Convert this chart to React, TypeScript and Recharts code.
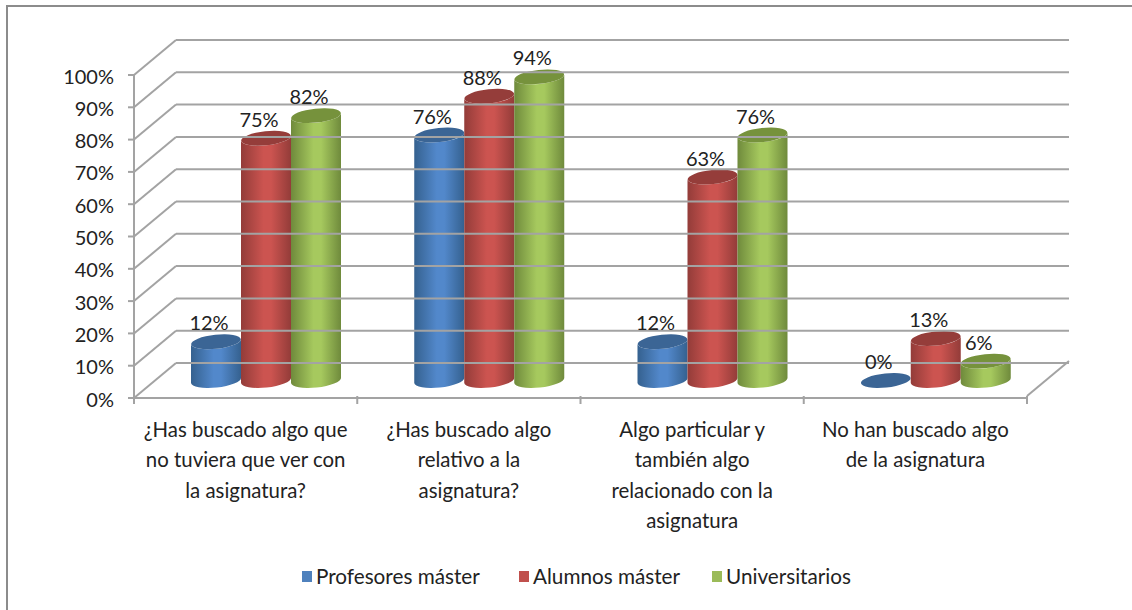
import { BarChart, Bar, XAxis, YAxis, Legend, LabelList } from 'recharts';

const categories = [
  ['¿Has buscado algo que', 'no tuviera que ver con', 'la asignatura?'],
  ['¿Has buscado algo', 'relativo a la', 'asignatura?'],
  ['Algo particular y', 'también algo', 'relacionado con la', 'asignatura'],
  ['No han buscado algo', 'de la asignatura'],
];
const profesores = [12, 76, 12, 0];
const alumnos = [75, 88, 63, 13];
const universitarios = [82, 94, 76, 6];
const yTicks = [0, 10, 20, 30, 40, 50, 60, 70, 80, 90, 100];

const data = categories.map((lines, i) => ({
  name: lines.join(' '),
  profesores: profesores[i],
  alumnos: alumnos[i],
  universitarios: universitarios[i],
}));

const FONT = 'Lato, sans-serif';
const GRID = '#a3a3a3';
const TEXT = '#222222';

// fake 3d depth of the walls, and of the bars standing halfway in
const DEPTH_X = 42;
const DEPTH_Y = 35;
const PLOT_LEFT = 134;
const PLOT_RIGHT = 1027;
const BAND = (PLOT_RIGHT - PLOT_LEFT) / categories.length;

// legend item widths, the reference spaces them unevenly
const LEGEND_WIDTHS = [217, 193, 140];

const YTick = ({ x, y, payload }: any) => (
  <g>
    <line x1={PLOT_LEFT} y1={y} x2={PLOT_LEFT + DEPTH_X} y2={y - DEPTH_Y} stroke={GRID} strokeWidth={2} />
    <line x1={PLOT_LEFT + DEPTH_X} y1={y - DEPTH_Y} x2={PLOT_RIGHT + DEPTH_X} y2={y - DEPTH_Y} stroke={GRID} strokeWidth={2} />
    <line x1={PLOT_LEFT - 6} y1={y} x2={PLOT_LEFT} y2={y} stroke={GRID} strokeWidth={2} />
    <text x={x - 12} y={y + 8.5} textAnchor="end" fontFamily={FONT} fontSize={20} fill={TEXT}>
      {payload.value}%
    </text>
  </g>
);

const XTick = ({ x, y, index }: any) => {
  const left = x - BAND / 2;
  const right = x + BAND / 2;
  return (
    <g>
      <line x1={left} y1={y - 8} x2={left} y2={y} stroke={GRID} strokeWidth={2} />
      {index === categories.length - 1 && (
        <g>
          <line x1={right} y1={y - 8} x2={right} y2={y} stroke={GRID} strokeWidth={2} />
          <line x1={right} y1={y - 8} x2={right + DEPTH_X} y2={y - 8 - DEPTH_Y} stroke={GRID} strokeWidth={2} />
        </g>
      )}
      <text textAnchor="middle" fontFamily={FONT} fontSize={20.4} fill={TEXT}>
        {categories[index].map((line, i) => (
          <tspan key={i} x={x} y={y + 33 + i * 30.4}>
            {line}
          </tspan>
        ))}
      </text>
    </g>
  );
};

const cylinder = (gradient: string, topColor: string) => (props: any) => {
  const { x, y, width, height } = props;
  const rx = width / 2;
  const ry = 7;
  const tilt = 2.6;
  const cx = x + rx + DEPTH_X / 2 - 1;
  const top = y - DEPTH_Y / 2;
  const bottom = top + height;
  const arc = `${rx} ${ry} -6`;
  const side =
    `M ${cx - rx} ${top + tilt} L ${cx - rx} ${bottom + tilt} ` +
    `A ${arc} 0 0 ${cx + rx} ${bottom - tilt} L ${cx + rx} ${top - tilt} ` +
    `A ${arc} 0 1 ${cx - rx} ${top + tilt} Z`;
  return (
    <g>
      {height > 0 && <path d={side} fill={`url(#${gradient})`} />}
      <ellipse cx={cx} cy={top} rx={rx} ry={ry} fill={topColor} transform={`rotate(-6 ${cx} ${top})`} />
    </g>
  );
};

const BarValue = ({ x, y, width, value }: any) => (
  <text x={x + width / 2 + 13} y={y - DEPTH_Y / 2 - 11.5} textAnchor="middle" fontFamily={FONT} fontSize={20} fill={TEXT}>
    {value}%
  </text>
);

const LegendRow = ({ payload }: any) => (
  <div style={{ display: 'flex', fontFamily: FONT, fontSize: 20.7, color: TEXT, lineHeight: '24px' }}>
    {payload.map((item: any, i: number) => (
      <div key={item.value} style={{ display: 'flex', alignItems: 'center', width: LEGEND_WIDTHS[i] }}>
        <span style={{ width: 10, height: 11, background: item.color, marginRight: 4 }} />
        {item.value}
      </div>
    ))}
  </div>
);

const Shade = ({ id, edge, mid }: { id: string; edge: string; mid: string }) => (
  <linearGradient id={id} x1="0" y1="0" x2="1" y2="0">
    <stop offset="0%" stopColor={edge} />
    <stop offset="45%" stopColor={mid} />
    <stop offset="60%" stopColor={mid} />
    <stop offset="100%" stopColor={edge} />
  </linearGradient>
);

export default function App() {
  return (
    <div style={{ position: 'absolute', left: 0, top: 0, width: 1132, height: 610, background: '#fff', overflow: 'hidden' }}>
      <div style={{ position: 'absolute', left: 6, top: 5, width: 1140, height: 620, border: '2px solid #8c8c8c' }} />
      <div style={{ position: 'absolute', left: 0, top: 0 }}>
        <BarChart
          width={1132}
          height={610}
          data={data}
          barSize={50}
          barGap={0}
          margin={{ top: 75, right: 105, bottom: 0, left: 74 }}
        >
          <defs>
            <Shade id="shadeBlue" edge="#35618f" mid="#5288cb" />
            <Shade id="shadeRed" edge="#933c39" mid="#cc5450" />
            <Shade id="shadeGreen" edge="#6f8a3c" mid="#a6c95e" />
          </defs>
          <YAxis
            width={60}
            domain={[0, 100]}
            ticks={yTicks}
            interval={0}
            axisLine={{ stroke: GRID, strokeWidth: 2 }}
            tickLine={false}
            tick={<YTick />}
          />
          <XAxis
            dataKey="name"
            height={182}
            interval={0}
            axisLine={{ stroke: GRID, strokeWidth: 2 }}
            tickLine={false}
            tick={<XTick />}
            tickMargin={0}
          />
          <Legend
            verticalAlign="bottom"
            height={30}
            itemSorter={null}
            wrapperStyle={{ left: 302, top: 564, width: 700 }}
            content={<LegendRow />}
          />
          <Bar dataKey="profesores" name="Profesores máster" fill="#4f81bd" isAnimationActive={false} shape={cylinder('shadeBlue', '#3b6595')}>
            <LabelList dataKey="profesores" content={<BarValue />} />
          </Bar>
          <Bar dataKey="alumnos" name="Alumnos máster" fill="#c0504d" isAnimationActive={false} shape={cylinder('shadeRed', '#953d3a')}>
            <LabelList dataKey="alumnos" content={<BarValue />} />
          </Bar>
          <Bar dataKey="universitarios" name="Universitarios" fill="#9bbb59" isAnimationActive={false} shape={cylinder('shadeGreen', '#76923c')}>
            <LabelList dataKey="universitarios" content={<BarValue />} />
          </Bar>
        </BarChart>
      </div>
    </div>
  );
}
